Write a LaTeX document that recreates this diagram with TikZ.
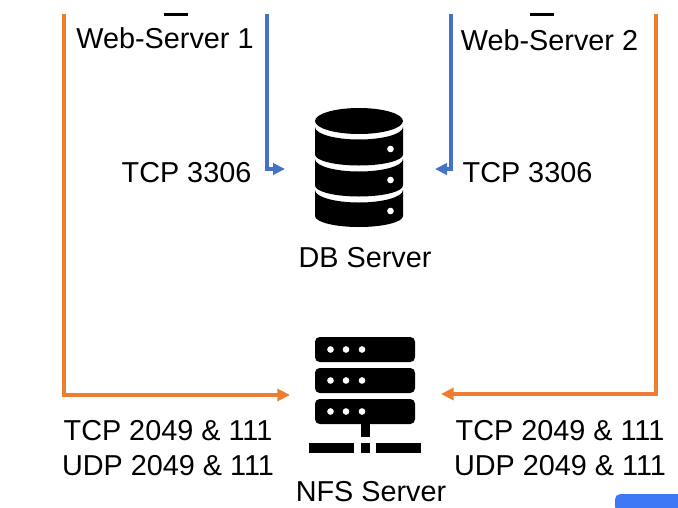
\documentclass[tikz,border=0pt]{standalone}
\usepackage{fontspec}
\setmainfont{Liberation Sans}
\usetikzlibrary{arrows.meta}
\definecolor{linkblue}{HTML}{4472C4}
\definecolor{linkorange}{HTML}{ED7D31}
\definecolor{patchblue}{HTML}{3F78F6}

\begin{document}
\begin{tikzpicture}[
            x=0.75pt,y=-0.75pt,
            label/.style={anchor=base,inner sep=0pt,font=\fontsize{21.6pt}{24pt}\selectfont},
            bluelink/.style={draw=linkblue,line width=2.3pt,-{Triangle[length=9pt,width=8.5pt]}},
            orangelink/.style={draw=linkorange,line width=2.3pt,-{Triangle[length=9.5pt,width=9pt]}},
            rack/.style={fill=black,rounded corners=3.5pt},
            dot/.style={fill=white,circle,inner sep=0pt,minimum size=5pt}
        ]
        \useasboundingbox (0,0) rectangle (678,507);
        \fill[white] (0,0) rectangle (678,507);

        % Draw labels %
        \node[label] (web1) at (165,48) {Web-Server 1};
        \node[label] (web2) at (549.5,50) {Web-Server 2};
        \node[label] (tcpdb1) at (186.5,182) {TCP 3306};
        \node[label] (tcpdb2) at (527.5,182) {TCP 3306};
        \node[label] (db) at (365,267) {DB Server};
        \node[label] (tcpnfs1) at (168,440) {TCP 2049 \& 111};
        \node[label] (udpnfs1) at (168,475) {UDP 2049 \& 111};
        \node[label] (tcpnfs2) at (560,440) {TCP 2049 \& 111};
        \node[label] (udpnfs2) at (560,475) {UDP 2049 \& 111};
        \node[label] (nfs) at (371,501) {NFS Server};

        % Link ends %
        \coordinate (o1) at (64,14);
        \coordinate (b1) at (267,14);
        \coordinate (b2) at (451,14);
        \coordinate (o2) at (656,14);
        \coordinate (dbin1) at (285,169);
        \coordinate (dbin2) at (435,169);
        \coordinate (nfsin1) at (290,395);
        \coordinate (nfsin2) at (441,394);

        % Draw arrows %
        \draw[orangelink] (o1) |- (nfsin1);
        \draw[bluelink] (b1) |- (dbin1);
        \draw[bluelink] (b2) |- (dbin2);
        \draw[orangelink] (o2) |- (nfsin2);

        % Cut-off bars above the web servers %
        \fill (164,13.3) rectangle (188,16);
        \fill (530,13.3) rectangle (554,16);

        % Draw database %
        \fill (315,121) arc[x radius=44,y radius=13,start angle=180,end angle=-180];
        \foreach \top/\bottom in {127/154.5,159/185.5,190/216}{
            \fill (315,\top) arc[x radius=44,y radius=12.5,start angle=180,end angle=0]
                -- (403,\bottom) arc[x radius=44,y radius=11,start angle=0,end angle=180] -- cycle;
        }
        \foreach \y in {149,180,211}
            \node[dot] at (390.5,\y) {};

        % Draw file server %
        \foreach \y/\h in {337/362,368/393,399/424}{
            \fill[rack] (315,\y) rectangle (415,\h);
            \foreach \x in {330.5,346,362}
                \node[dot] at (\x,{(\y+\h)/2}) {};
        }
        \fill (360.5,424) rectangle (370,437);
        \fill (309,443) rectangle (354,453);
        \fill (360.5,443) rectangle (370,453);
        \fill (376,443) rectangle (421,453);

        % Corner patch %
        \fill[patchblue,rounded corners=4pt] (615,512) -- (615,494) -- (683,494) -- (683,512) -- cycle;
        \end{tikzpicture}
\end{document}
